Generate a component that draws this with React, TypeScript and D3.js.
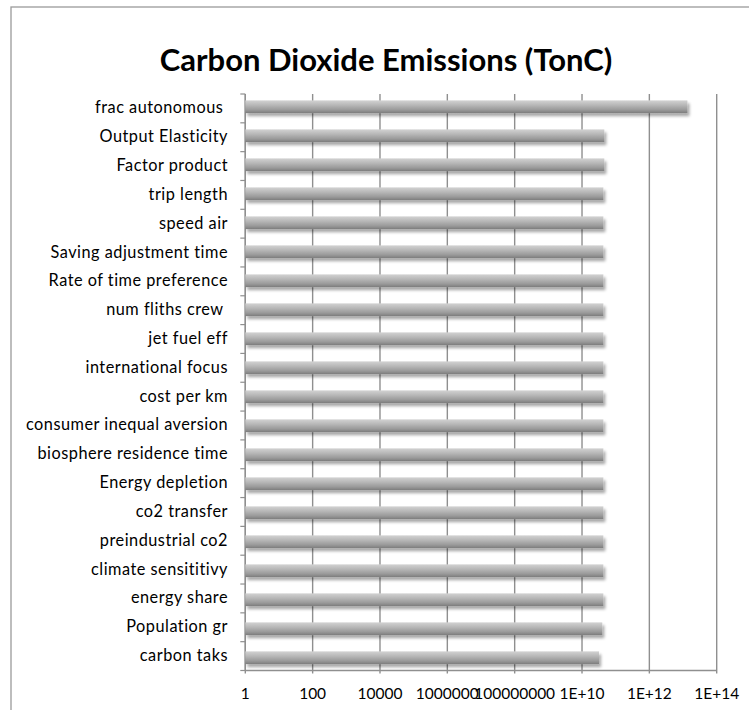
import React from "react";
import * as d3 from "d3";

const categories = [
  "frac autonomous ",
  "Output Elasticity",
  "Factor product",
  "trip length",
  "speed air",
  "Saving adjustment time",
  "Rate of time preference",
  "num fliths crew ",
  "jet fuel eff",
  "international focus",
  "cost per km",
  "consumer inequal aversion",
  "biosphere residence time",
  "Energy depletion",
  "co2 transfer",
  "preindustrial co2",
  "climate sensititivy",
  "energy share",
  "Population gr",
  "carbon taks",
];

const values = [
  1.35e13, 4.6e10, 4.6e10, 4.3e10, 4.3e10, 4.3e10, 4.3e10, 4.3e10, 4.3e10, 4.3e10,
  4.3e10, 4.3e10, 4.3e10, 4.3e10, 4.3e10, 4.3e10, 4.3e10, 4.3e10, 4.0e10, 3.2e10,
];

const tickValues = [1, 1e2, 1e4, 1e6, 1e8, 1e10, 1e12, 1e14];
const tickLabels = ["1", "100", "10000", "1000000", "100000000", "1E+10", "1E+12", "1E+14"];

const title = "Carbon Dioxide Emissions (TonC)";

export default function App() {
  const W = 749;
  const H = 710;
  const left = 245.3;
  const right = 716.7;
  const top = 94;
  const bottom = 670.5;

  const x = d3.scaleLog().domain([1, 1e14]).range([left, right]);
  const y = d3
    .scaleBand<string>()
    .domain(categories)
    .range([top, bottom])
    .paddingInner(0.56)
    .paddingOuter(0.22);
  const step = (bottom - top) / categories.length;
  const grid = "#8f8f8f";
  const font = "Lato, 'Open Sans', sans-serif";

  return (
    <svg
      width={W}
      height={H}
      style={{ position: "absolute", left: 0, top: 0, background: "#fff" }}
    >
      <defs>
        <linearGradient id="barGrad" x1="0" y1="0" x2="0" y2="1">
          <stop offset="0%" stopColor="#d2d2d2" />
          <stop offset="35%" stopColor="#b9b9b9" />
          <stop offset="75%" stopColor="#999999" />
          <stop offset="100%" stopColor="#7c7c7c" />
        </linearGradient>
        <filter id="shadow" x="-5%" y="-40%" width="115%" height="220%">
          <feGaussianBlur in="SourceAlpha" stdDeviation="1.6" />
          <feOffset dx="2" dy="2.5" result="off" />
          <feComponentTransfer>
            <feFuncA type="linear" slope="0.35" />
          </feComponentTransfer>
          <feMerge>
            <feMergeNode />
            <feMergeNode in="SourceGraphic" />
          </feMerge>
        </filter>
      </defs>

      {/* outer frame */}
      <rect x={11} y={7} width={W} height={H} fill="#fff" stroke="#9a9a9a" strokeWidth={1.3} />

      <text
        x={386}
        y={71}
        textAnchor="middle"
        fontFamily={font}
        fontWeight="bold"
        fontSize={31}
        fill="#000"
      >
        {title}
      </text>

      {/* gridlines */}
      {tickValues.map((t, i) => (
        <line
          key={"g" + i}
          x1={x(t)}
          x2={x(t)}
          y1={top}
          y2={bottom + 3}
          stroke={grid}
          strokeWidth={1.4}
        />
      ))}

      {/* bottom axis */}
      <line x1={left} x2={right} y1={bottom} y2={bottom} stroke={grid} strokeWidth={1.4} />
      {/* left axis */}
      <line x1={left} x2={left} y1={top} y2={bottom} stroke={grid} strokeWidth={1.4} />
      {d3.range(categories.length + 1).map((i) => (
        <line
          key={"lt" + i}
          x1={left - 5}
          x2={left}
          y1={top + i * step}
          y2={top + i * step}
          stroke={grid}
          strokeWidth={1.2}
        />
      ))}

      {/* bars */}
      {categories.map((c, i) => (
        <rect
          key={"b" + i}
          x={left}
          y={y(c)!}
          width={x(values[i]) - left}
          height={y.bandwidth()}
          fill="url(#barGrad)"
          filter="url(#shadow)"
        />
      ))}

      {/* category labels */}
      {categories.map((c, i) => (
        <text
          key={"l" + i}
          x={228}
          y={top + (i + 0.5) * step + 5}
          textAnchor="end"
          fontFamily={font}
          fontSize={16.3}
          letterSpacing={0.5}
          fill="#000"
          style={{ whiteSpace: "pre" }}
        >
          {c}
        </text>
      ))}

      {/* tick labels */}
      {tickValues.map((t, i) => (
        <text
          key={"t" + i}
          x={x(t)}
          y={699}
          textAnchor="middle"
          fontFamily={font}
          fontSize={15.5}
          fill="#000"
        >
          {tickLabels[i]}
        </text>
      ))}
    </svg>
  );
}
